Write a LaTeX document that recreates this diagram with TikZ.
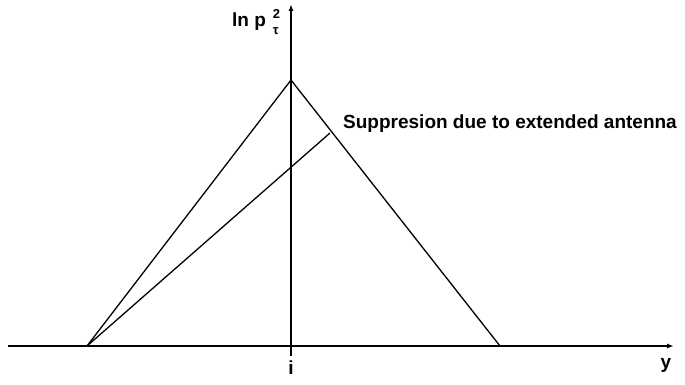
\documentclass[tikz,border=0pt]{standalone}
\usepackage{fontspec}
\setmainfont{Liberation Sans}
\usepackage{tikz}
\usetikzlibrary{arrows.meta, positioning, calc}
\tikzset{
    % coordinate axes with small filled heads
    axis/.style={-{Latex[length=7pt, width=5pt]}, line width=1.6pt},
    % straight lines of the triangle
    slope/.style={line width=1.3pt},
    % axis and line annotations
    lbl/.style={font=\bfseries\fontsize{19}{22}\selectfont, inner sep=1pt},
}
\newcommand{\smallidx}{\bfseries\fontsize{13}{13}\selectfont}

\begin{document}
\begin{tikzpicture}[x=1pt, y=-1pt, >=Latex]
    \useasboundingbox (0,0) rectangle (685,385);

    % --- axes ---
    \coordinate (xs) at (8, 346);
    \coordinate (xe) at (674, 346);
    \coordinate (ys) at (291, 356);
    \coordinate (ye) at (291, 4);
    \draw[axis] (xs) -- (xe);
    \draw[axis] (ys) -- (ye);

    % --- triangle corners ---
    \coordinate (foot) at (87, 346);
    \coordinate (peak) at (291, 80);
    \coordinate (rfoot) at (500, 346);
    \coordinate (cut) at (330, 133);

    \draw[slope] (foot) -- (peak) -- (rfoot);
    \draw[slope] (foot) -- (cut);

    % --- labels ---
    \node[lbl, anchor=west] (ylab) at (231, 22)
        {ln p\hspace{7pt}\rlap{\raisebox{8pt}{\smallidx 2}}\raisebox{-8pt}{\smallidx τ}};
    \node[lbl, anchor=north] (tick) at (291, 360) {i};
    \node[lbl, anchor=north] (xlab) at (666, 357) {y};
    \node[lbl, anchor=west] (supp) at (342, 124) {Suppresion due to extended antenna};

\end{tikzpicture}
\end{document}
